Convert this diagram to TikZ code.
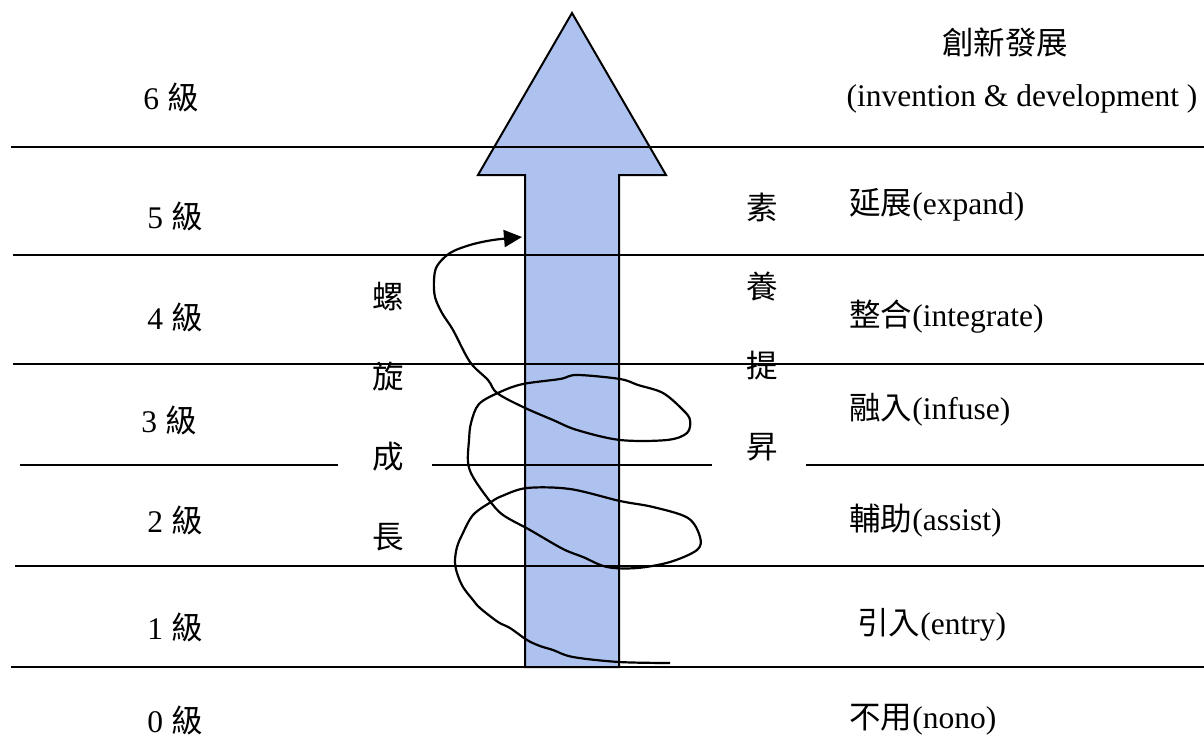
\documentclass[tikz,border=0pt]{standalone}
\usepackage{fontspec}
\setmainfont{Liberation Serif}
\newfontfamily\cjk{Noto Sans CJK TC}
\usetikzlibrary{arrows.meta}
\definecolor{arrowfill}{RGB}{174,194,240}
\tikzset{
  lvl/.style={draw=black, line width=1.2pt},
  txt/.style={inner sep=0pt, font=\fontsize{15.75pt}{18pt}\selectfont},
  bigarrow/.style={draw=black, line width=1pt, fill=arrowfill, line join=miter},
  spiral/.style={draw=black, line width=1.1pt, line join=round, -{Triangle[length=9pt,width=8.5pt]}}
}
\begin{document}
\begin{tikzpicture}[x=0.5pt, y=-0.5pt]
\fill[white] (0,0) rectangle (1204,738);
\useasboundingbox (0,0) rectangle (1204,738);

% big arrow
\draw[bigarrow] (572,13) -- (666,175) -- (619,175) -- (619,667) -- (525,667) -- (525,175) -- (478,175) -- cycle;

% level lines
\draw[lvl] (11,147) -- (1204,147);
\draw[lvl] (13,255) -- (1204,255);
\draw[lvl] (13,364) -- (1204,364);
\draw[lvl] (20,465) -- (338,465);
\draw[lvl] (432,465) -- (712,465);
\draw[lvl] (806,465) -- (1204,465);
\draw[lvl] (15,566) -- (1204,566);
\draw[lvl] (11,667) -- (1204,667);

% spiral
\coordinate (s0) at (670,663);
\coordinate (s1) at (522,237);
\draw[spiral] plot[smooth, tension=0.55] coordinates {
(s0) (619,662) (573,657) (553,650) (540,646) (527,640) (510,628) (498,622) (480,608) (473,600) (463,587) (457,573) (455,561) (457,547) (462,535) (473,515) (491,502) (502,496) (527,488) (570,489) (620,501) (653,507) (688,518) (700,537) (697,550) (670,562) (637,568) (607,567) (583,557) (563,549) (530,530) (503,515) (489,500) (473,477) (468,462) (469,440) (471,423) (479,404) (500,392) (523,384) (560,379) (577,375) (620,379) (638,385) (663,393) (683,410) (690,420) (687,433) (667,440) (620,440) (577,430) (553,420) (523,407) (497,393) (488,380) (470,362) (453,330) (442,313) (435,297) (434,280) (437,266) (450,253) (470,245) (493,240) (s1)};

% left level labels
\node[txt] (l6) at (171,97) {6 {\cjk 級}};
\node[txt] (l5) at (175,216) {5 {\cjk 級}};
\node[txt] (l4) at (175,317) {4 {\cjk 級}};
\node[txt] (l3) at (169,420) {3 {\cjk 級}};
\node[txt] (l2) at (175,520) {2 {\cjk 級}};
\node[txt] (l1) at (175,627) {1 {\cjk 級}};
\node[txt] (l0) at (175,720) {0 {\cjk 級}};

% right labels
\node[txt] (r6a) at (1005,42) {\cjk 創新發展};
\node[txt] (r6b) at (1022,99) {(invention \& development )};
\node[txt, anchor=west] (r5) at (849,205) {{\cjk 延展}(expand)};
\node[txt, anchor=west] (r4) at (849,317) {{\cjk 整合}(integrate)};
\node[txt, anchor=west] (r3) at (849,410) {{\cjk 融入}(infuse)};
\node[txt, anchor=west] (r2) at (849,521) {{\cjk 輔助}(assist)};
\node[txt, anchor=west] (r1) at (857,625) {{\cjk 引入}(entry)};
\node[txt, anchor=west] (r0) at (849,720) {{\cjk 不用}(nono)};

% vertical words
\node[txt] (c1) at (388,297) {\cjk 螺};
\node[txt] (c2) at (388,377) {\cjk 旋};
\node[txt] (c3) at (388,457) {\cjk 成};
\node[txt] (c4) at (388,537) {\cjk 長};
\node[txt] (d1) at (762,207) {\cjk 素};
\node[txt] (d2) at (762,287) {\cjk 養};
\node[txt] (d3) at (762,366) {\cjk 提};
\node[txt] (d4) at (762,447) {\cjk 昇};
\end{tikzpicture}
\end{document}
